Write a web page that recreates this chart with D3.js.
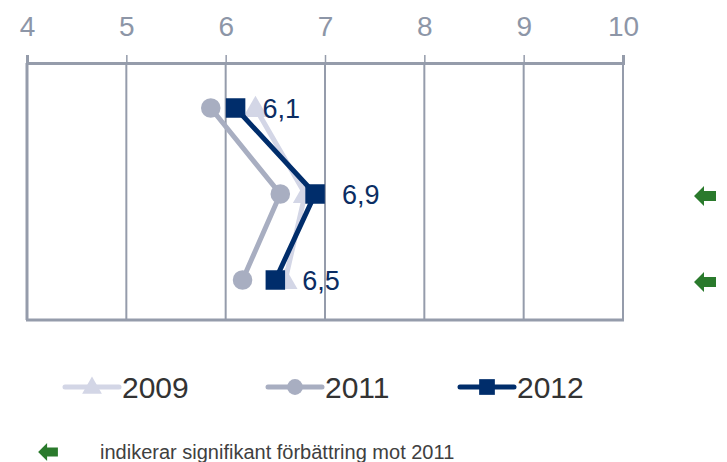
<!DOCTYPE html>
<html>
<head>
<meta charset="utf-8">
<script src="https://cdn.jsdelivr.net/npm/d3@7"></script>
<style>
body { margin: 0; background: #fff; }
text { font-family: "Liberation Sans", Arial, sans-serif; }
</style>
</head>
<body>
<svg width="727" height="462"></svg>
<script>
// rows (top to bottom), one value per row
var rows = ["A", "B", "C"];
var v2009 = [6.3, 6.8, 6.6];
var v2011 = [5.85, 6.55, 6.17];
var v2012 = [6.1, 6.9, 6.5];
var labels2012 = ["6,1", "6,9", "6,5"];
var improved = [false, true, true];
var ticks = [4, 5, 6, 7, 8, 9, 10];

var svg = d3.select("svg");
var x = d3.scaleLinear().domain([4, 10]).range([27, 623]);
var y = d3.scalePoint().domain(rows).range([108, 280]);
var plotTop = 63, plotBottom = 320;
var gridCol = "#959cab";

// grid
svg.selectAll(".grid").data(ticks).enter().append("line")
  .attr("x1", d => x(d)).attr("x2", d => x(d))
  .attr("y1", plotTop).attr("y2", plotBottom)
  .attr("stroke", gridCol).attr("stroke-width", d => d == 4 ? 3 : 2);
svg.append("line").attr("x1", x(4) - 1).attr("x2", x(10) + 1)
  .attr("y1", plotBottom).attr("y2", plotBottom)
  .attr("stroke", gridCol).attr("stroke-width", 3);

// top axis
var axis = svg.append("g").attr("transform", "translate(0," + plotTop + ")")
  .call(d3.axisTop(x).tickValues(ticks).tickSize(8).tickPadding(19).tickFormat(d3.format("d")));
axis.select(".domain").attr("stroke", gridCol).attr("stroke-width", 3);
axis.selectAll(".tick line").attr("stroke", gridCol).attr("stroke-width", 1.5);
axis.selectAll(".tick text").attr("fill", "#8d96a7").style("font-size", "28px")
  .style("font-family", "'Liberation Sans', Arial, sans-serif");

var series = [
  { name: "2009", vals: v2009, color: "#d3d6e6", shape: d3.symbolTriangle },
  { name: "2011", vals: v2011, color: "#a8aec1", shape: d3.symbolCircle },
  { name: "2012", vals: v2012, color: "#002d6b", shape: d3.symbolSquare }
];
var sizes = { "2009": 260, "2011": 300, "2012": 380 };

var line = d3.line().x(d => x(d[0])).y(d => y(d[1]));

series.forEach(function(s) {
  var pts = s.vals.map((v, i) => [v, rows[i]]);
  svg.append("path").datum(pts).attr("d", line)
    .attr("fill", "none").attr("stroke", s.color).attr("stroke-width", 5);
  svg.selectAll(null).data(pts).enter().append("path")
    .attr("d", d3.symbol().type(s.shape).size(sizes[s.name]))
    .attr("transform", d => "translate(" + x(d[0]) + "," + (y(d[1]) + (s.name == "2009" ? 2 : 0)) + ")")
    .attr("fill", s.color);
});

// 2012 labels
svg.selectAll(".lab").data(v2012).enter().append("text")
  .attr("x", d => x(d) + 27).attr("y", (d, i) => y(rows[i]))
  .attr("dy", "0.36em").attr("fill", "#0b2d63").style("font-size", "27px")
  .text((d, i) => labels2012[i]);

// green arrows
function arrow(g, cx, cy, s) {
  g.append("path")
    .attr("d", "M" + (cx - 11 * s) + "," + cy + " L" + (cx - 1 * s) + "," + (cy - 10 * s) +
      " L" + (cx - 1 * s) + "," + (cy - 5 * s) + " L" + (cx + 11 * s) + "," + (cy - 5 * s) +
      " L" + (cx + 11 * s) + "," + (cy + 5 * s) + " L" + (cx - 1 * s) + "," + (cy + 5 * s) +
      " L" + (cx - 1 * s) + "," + (cy + 10 * s) + "Z")
    .attr("fill", "#2a7a2c");
}
improved.forEach(function(f, i) {
  if (f) arrow(svg, 705, y(rows[i]) + 2, 1);
});

// legend
var legX = [65, 268, 460];
series.forEach(function(s, i) {
  var g = svg.append("g").attr("transform", "translate(" + legX[i] + ",387)");
  g.append("line").attr("x1", 0).attr("x2", 54).attr("stroke", s.color)
    .attr("stroke-width", 5).attr("stroke-linecap", "round");
  g.append("path").attr("d", d3.symbol().type(s.shape).size(sizes[s.name] * 0.65))
    .attr("transform", "translate(27," + (s.name == "2009" ? 1 : 0) + ")").attr("fill", s.color);
  g.append("text").attr("x", 57).attr("dy", "0.36em").attr("fill", "#333")
    .style("font-size", "30px").text(s.name);
});

// footnote
arrow(svg, 48, 452, 0.9);
svg.append("text").attr("x", 100).attr("y", 452).attr("dy", "0.35em")
  .attr("fill", "#404040").style("font-size", "20px")
  .text("indikerar signifikant förbättring mot 2011");
</script>
</body>
</html>
